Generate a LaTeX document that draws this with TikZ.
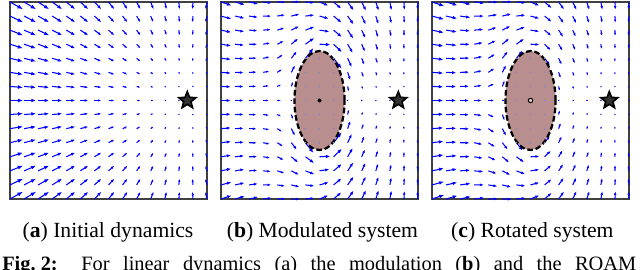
\documentclass[tikz,border=0pt]{standalone}
\usepackage{fontspec}
\setmainfont{Liberation Serif}
\usepackage{tikz}
\usetikzlibrary{calc}
\usetikzlibrary{positioning}
\usetikzlibrary{shapes.geometric}
\usetikzlibrary{arrows.meta}
\definecolor{fieldColor}{HTML}{0000FF}
\definecolor{insideColor}{HTML}{8C82D2}
\definecolor{obstacleColor}{HTML}{B88E8E}
\definecolor{frameColor}{HTML}{404040}

\def\kscale{0.074}
% #1: 0 initial, 1 modulated, 2 rotated
\newcommand{\drawfield}[1]{%
	\foreach \i in {0,...,14} \foreach \j in {0,...,14} {
		\def\inside{0}
		\pgfmathsetmacro\fx{12.6-\i}
		\pgfmathsetmacro\fy{7-\j}
		\ifnum#1=0
			\pgfmathsetmacro\vx{\kscale*(\fx)}
			\pgfmathsetmacro\vy{\kscale*(\fy)}
		\else
			\pgfmathsetmacro\rx{\i-7}
			\pgfmathsetmacro\ry{\j-7}
			\pgfmathsetmacro\gam{sqrt((\rx/1.78)*(\rx/1.78)+(\ry/3.52)*(\ry/3.52))}
			\ifdim\gam pt<1pt
				\def\inside{1}
				\def\vx{0}\def\vy{0}
			\else
				\pgfmathsetmacro\rn{sqrt((\rx)*(\rx)+(\ry)*(\ry))}
				\pgfmathsetmacro\ux{(\rx)/\rn}
				\pgfmathsetmacro\uy{(\ry)/\rn}
				\pgfmathsetmacro\nx{(\rx)/(1.78*1.78)}
				\pgfmathsetmacro\ny{(\ry)/(3.52*3.52)}
				\pgfmathsetmacro\nn{sqrt((\nx)*(\nx)+(\ny)*(\ny))}
				\pgfmathsetmacro\ex{(-1)*(\ny)/\nn}
				\pgfmathsetmacro\ey{(\nx)/\nn}
				\pgfmathsetmacro\dt{(\ux)*(\ey)-(\uy)*(\ex)}
				\pgfmathsetmacro\al{((\fx)*(\ey)-(\fy)*(\ex))/(\dt)}
				\pgfmathsetmacro\be{((\ux)*(\fy)-(\uy)*(\fx))/(\dt)}
				\pgfmathsetmacro\lamr{1-1/\gam}
				\pgfmathsetmacro\lame{1+1/\gam}
				\pgfmathsetmacro\mx{\lamr*(\al)*(\ux)+\lame*(\be)*(\ex)}
				\pgfmathsetmacro\my{\lamr*(\al)*(\uy)+\lame*(\be)*(\ey)}
				\ifnum#1=1
					\pgfmathsetmacro\vx{\kscale*(\mx)}
					\pgfmathsetmacro\vy{\kscale*(\my)}
				\else
					\pgfmathsetmacro\mm{sqrt((\mx)*(\mx)+(\my)*(\my))+0.0001}
					\pgfmathsetmacro\ff{sqrt((\fx)*(\fx)+(\fy)*(\fy))}
					\pgfmathsetmacro\vx{\kscale*(\mx)/\mm*sqrt(\mm*\ff)}
					\pgfmathsetmacro\vy{\kscale*(\my)/\mm*sqrt(\mm*\ff)}
				\fi
			\fi
		\fi
		\ifnum\inside=1
			\fill[insideColor] (\i,\j) circle (0.6pt);
		\else
			\pgfmathsetmacro\vlen{sqrt((\vx)*(\vx)+(\vy)*(\vy))}
			\ifdim\vlen pt<0.08pt
				\fill[fieldColor] (\i,\j) circle (0.55pt);
			\else
				\pgfmathsetmacro\hl{0.3*\vlen*0.3518+0.03}
				\pgfmathsetmacro\hw{0.75*\hl}
				\draw[vec, -{Latex[length=\hl cm, width=\hw cm]}] (\i,\j) -- ++(\vx,\vy);
			\fi
		\fi
	}%
}

\begin{document}
\begin{tikzpicture}[
			vec/.style={draw=fieldColor, line width=0.75pt},
			panel/.style={draw=frameColor, line width=0.9pt},
			goal/.style={star, star points=5, star point ratio=2.3, draw=black, fill=black!80, line width=1.2pt, minimum size=0.44cm, inner sep=0pt},
			obstacle/.style={fill=obstacleColor, draw=black, line width=1.6pt, dash pattern=on 4pt off 2pt},
			lbl/.style={font=\fontsize{15.4}{18}\selectfont},
			]
			\useasboundingbox (0,0) rectangle (16,6.725);
			\clip (0,0) rectangle (16,6.725);
			% (a) initial dynamics
			\begin{scope}[shift={(0.25,1.75)}, x=0.3518cm, y=0.3518cm]
				\draw[panel] (0,0) rectangle (14,14);
				\drawfield{0}
				\node[goal] (goalA) at (12.6,7) {};
			\end{scope}
			% (b) modulated system
			\begin{scope}[shift={(5.525,1.75)}, x=0.3518cm, y=0.3518cm]
				\draw[panel] (0,0) rectangle (14,14);
				\drawfield{1}
				\draw[obstacle] (7,7) ellipse [x radius=1.78, y radius=3.52];
				\foreach \i in {6,7,8} \foreach \j in {4,...,10} \fill[insideColor] (\i,\j) circle (0.6pt);
				\node[circle, fill=black, inner sep=0pt, minimum size=0.1cm] (refB) at (7,7) {};
				\node[goal] (goalB) at (12.6,7) {};
			\end{scope}
			% (c) rotated system
			\begin{scope}[shift={(10.8,1.75)}, x=0.3518cm, y=0.3518cm]
				\draw[panel] (0,0) rectangle (14,14);
				\drawfield{2}
				\draw[obstacle] (7,7) ellipse [x radius=1.78, y radius=3.52];
				\foreach \i in {6,7,8} \foreach \j in {4,...,10} \fill[insideColor] (\i,\j) circle (0.6pt);
				\node[circle, draw=black, fill=obstacleColor!40, line width=0.7pt, inner sep=0pt, minimum size=0.11cm] (refC) at (7,7) {};
				\node[goal] (goalC) at (12.6,7) {};
			\end{scope}
			\node[lbl] (capA) at (2.7,0.925) {(\textbf{a}) Initial dynamics};
			\node[lbl] (capB) at (8.06,0.925) {(\textbf{b}) Modulated system};
			\node[lbl] (capC) at (13.31,0.925) {(\textbf{c}) Rotated system};
			\node[anchor=base west, inner sep=0pt, font=\fontsize{14.5}{17}\selectfont] (figCap) at (0.05,-0.04) {\makebox[15.85cm][s]{\textbf{Fig.\hspace{0.25em}2:} For linear dynamics (a) the modulation (\textbf{b}) and the ROAM}};
		\end{tikzpicture}
\end{document}
